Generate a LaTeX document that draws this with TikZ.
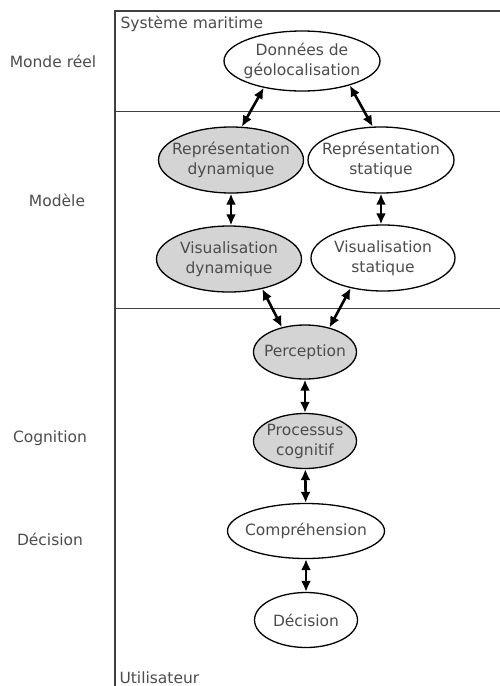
\documentclass[tikz,border=0pt]{standalone}
\usepackage{fontspec}
\setmainfont{DejaVu Sans}
\usetikzlibrary{arrows.meta, shapes.geometric}

\begin{document}
\begin{tikzpicture}[x=1pt, y=-1pt,
	every node/.style={text=black!70, font=\fontsize{15.5}{20}\selectfont},
	every label/.style={align=center, inner sep=0pt},
	etat/.style={draw, ellipse, line width=1.3pt, inner sep=0pt, fill=white},
	actif/.style={etat, fill=black!17},
	lien/.style={{Latex[length=11pt,width=10pt]}-{Latex[length=11pt,width=10pt]}, line width=2.6pt},
	cadre/.style={black!75, line width=1.5pt}]
	\useasboundingbox (0,0) rectangle (500,686);

	% cadres
	\draw [cadre] (500,11) -- (115,11) -- (115,686);
	\draw [cadre] (115,111.5) -- (500,111.5);
	\draw [cadre] (115,308.5) -- (500,308.5);
	\node [anchor=base west] (sys) at (117,28) {Système maritime};
	\node [anchor=base west] (util) at (116,683) {Utilisateur};

	% niveaux
	\node (monde) at (53,61) {Monde réel};
	\node (modele) at (57,200) {Modèle};
	\node (cogn) at (50,438) {Cognition};
	\node (decn) at (50,539) {Décision};

	% etats (texte pose en label pour garder la taille de l'ellipse)
	\node [etat, minimum width=156, minimum height=60, label=center:{Données de\\géolocalisation}] (geo) at (302,61) {};
	\node [actif, minimum width=145, minimum height=66, label=center:{Représentation\\dynamique}] (repdyn) at (231,160) {};
	\node [etat, minimum width=146, minimum height=66, label=center:{Représentation\\statique}] (repstat) at (381,160) {};
	\node [actif, minimum width=145, minimum height=66, label=center:{Visualisation\\dynamique}] (visdyn) at (229,259) {};
	\node [etat, minimum width=144, minimum height=66, label=center:{Visualisation\\statique}] (visstat) at (383,258) {};
	\node [actif, minimum width=103, minimum height=54, label=center:{Perception}] (percep) at (305,352) {};
	\node [actif, minimum width=103, minimum height=55, label=center:{Processus\\cognitif}] (proc) at (305,441) {};
	\node [etat, minimum width=157, minimum height=55, label=center:{Compréhension}] (compr) at (306,531) {};
	\node [etat, minimum width=103, minimum height=55, label=center:{Décision}] (decis) at (306,620) {};

	% liens
	\draw [lien] (geo.215) -- (repdyn.72);
	\draw [lien] (geo.333) -- (repstat.104);
	\draw [lien] (repdyn.south) -- (repdyn.south |- visdyn.north);
	\draw [lien] (repstat.south) -- (repstat.south |- visstat.north);
	\draw [lien] (visdyn.318) -- (percep.133);
	\draw [lien] (visstat.223) -- (percep.45);
	\draw [lien] (percep) -- (proc);
	\draw [lien] (proc) -- (compr);
	\draw [lien] (compr) -- (decis);

\end{tikzpicture}
\end{document}
